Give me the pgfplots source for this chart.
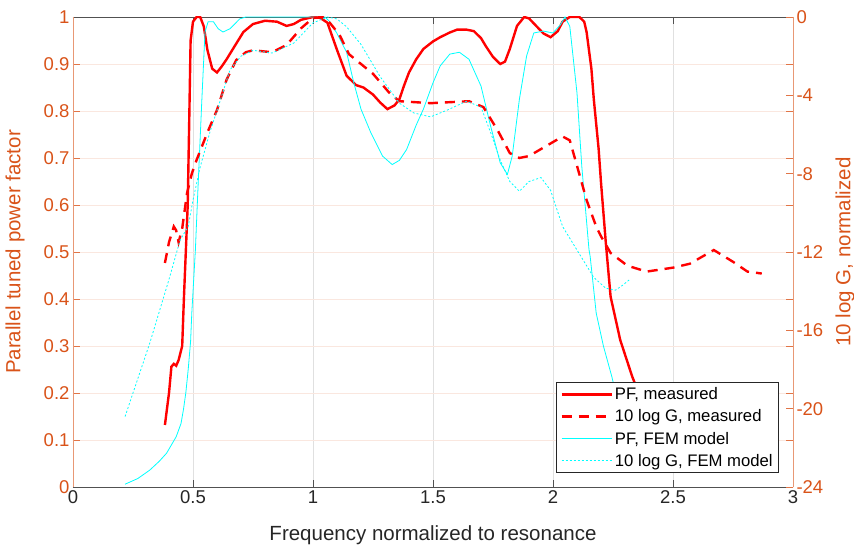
\documentclass[border=0pt]{standalone}
\usepackage{pgfplots}
\pgfplotsset{compat=1.18}
\usepackage{fontspec}
\setmainfont{Liberation Sans}
\definecolor{morange}{HTML}{D95319}
\definecolor{mgray}{HTML}{262626}
\definecolor{mcyan}{HTML}{00FFFF}
\begin{document}
\begin{tikzpicture}
\pgfplotsset{
  every axis/.append style={
    scale only axis, width=720pt, height=470pt,
    xmin=0, xmax=3,
    /pgf/number format/assume math mode=true,
    tick label style={font=\fontsize{18.5}{22}\selectfont},
    label style={font=\fontsize{20.5}{24}\selectfont},
    major tick length=7pt, tick align=inside,
  }
}
\begin{axis}[
  ymin=0, ymax=1,
  ytick={0,0.1,0.2,0.3,0.4,0.5,0.6,0.7,0.8,0.9,1},
  yticklabels={0,0.1,0.2,0.3,0.4,0.5,0.6,0.7,0.8,0.9,1},
  xtick={0,0.5,1,1.5,2,2.5,3},
  xticklabels={0,0.5,1,1.5,2,2.5,3},
  separate axis lines,
  x axis line style={draw=mgray!80, line width=0.7pt},
  y axis line style={draw=morange!60, line width=0.8pt},
  xtick style={mgray!80, line width=0.7pt},
  ytick style={morange!80, line width=0.7pt},
  xticklabel style={mgray},
  yticklabel style={morange},
  xmajorgrids, ymajorgrids,
  major x grid style={black!12, line width=0.6pt},
  major y grid style={morange!14, line width=0.6pt},
  xlabel={Frequency normalized to resonance},
  ylabel={Parallel tuned power factor},
  xlabel style={mgray, at={(axis description cs:0.5,-0.102)}, anchor=center},
  ylabel style={morange, at={(axis description cs:-0.0806,0.5)}, anchor=center},
]
% PF, measured
\addplot[red, line width=2.4pt] coordinates {
(0.383,0.132) (0.40,0.20) (0.41,0.256) (0.42,0.262) (0.43,0.258) (0.44,0.27)
(0.455,0.30) (0.462,0.40) (0.47,0.50) (0.478,0.60) (0.485,0.80) (0.49,0.95)
(0.50,0.99) (0.515,1.0) (0.53,1.0) (0.545,0.98) (0.56,0.93) (0.58,0.89)
(0.60,0.882) (0.62,0.895) (0.64,0.91) (0.67,0.935) (0.71,0.968) (0.75,0.985)
(0.80,0.992) (0.85,0.99) (0.89,0.981) (0.92,0.985) (0.95,0.994) (1.0,1.0)
(1.03,0.998) (1.06,0.988) (1.10,0.93) (1.14,0.875) (1.18,0.855) (1.21,0.85)
(1.25,0.835) (1.28,0.818) (1.31,0.804) (1.34,0.812) (1.36,0.825) (1.38,0.855)
(1.40,0.882) (1.43,0.91) (1.46,0.932) (1.50,0.948) (1.53,0.957) (1.57,0.967)
(1.60,0.973) (1.64,0.973) (1.67,0.97) (1.70,0.955) (1.72,0.938) (1.75,0.915)
(1.78,0.9) (1.80,0.905) (1.82,0.932) (1.85,0.981) (1.88,1.0) (1.90,0.997)
(1.93,0.981) (1.96,0.965) (1.99,0.957) (2.02,0.97) (2.04,0.99) (2.07,1.0)
(2.11,1.0) (2.13,0.99) (2.14,0.968) (2.16,0.89) (2.17,0.825) (2.19,0.72)
(2.20,0.648) (2.22,0.52) (2.24,0.405) (2.28,0.313) (2.33,0.235) (2.38,0.17)
(2.43,0.12)
};
% PF, FEM model
\addplot[mcyan, line width=0.8pt] coordinates {
(0.217,0.006) (0.27,0.018) (0.32,0.036) (0.36,0.055) (0.39,0.072) (0.43,0.107)
(0.45,0.135) (0.46,0.164) (0.47,0.20) (0.48,0.25) (0.49,0.31) (0.495,0.37)
(0.51,0.505) (0.52,0.627) (0.537,0.825) (0.55,0.968) (0.563,0.99) (0.585,0.99)
(0.605,0.975) (0.625,0.968) (0.654,0.975) (0.695,0.996) (0.72,1.0) (1.05,1.0)
(1.07,0.99) (1.10,0.965) (1.14,0.925) (1.17,0.86) (1.20,0.804) (1.24,0.755)
(1.29,0.704) (1.33,0.686) (1.36,0.695) (1.39,0.718) (1.43,0.77) (1.46,0.804)
(1.50,0.86) (1.53,0.896) (1.57,0.921) (1.61,0.925) (1.65,0.91) (1.70,0.853)
(1.74,0.768) (1.78,0.69) (1.81,0.665) (1.83,0.704) (1.86,0.825) (1.89,0.917)
(1.92,0.966) (1.96,0.97) (2.00,0.966) (2.03,0.983) (2.05,1.0) (2.07,0.98)
(2.10,0.838) (2.12,0.682) (2.15,0.505) (2.155,0.49) (2.18,0.37) (2.21,0.30)
(2.245,0.235) (2.28,0.16) (2.32,0.10)
};
\end{axis}
\begin{axis}[
  axis x line=none, axis y line*=right,
  ymin=-24, ymax=0,
  ytick={-24,-20,-16,-12,-8,-4,0},
  yticklabels={-24,-20,-16,-12,-8,-4,0},
  y axis line style={draw=morange!60, line width=0.8pt},
  ytick style={morange!80, line width=0.7pt},
  yticklabel style={morange},
  ylabel={10 log G, normalized},
  ylabel style={morange, at={(axis description cs:1.0722,0.5)}, anchor=center},
  legend style={at={(rel axis cs:1,0)}, anchor=south east, xshift=-14pt, yshift=14pt,
    draw=mgray, line width=0.6pt, fill=white, text=black,
    font=\fontsize{16.7}{19}\selectfont, row sep=4.5pt, inner xsep=4pt, inner ysep=3pt},
  legend cell align=left,
  legend image code/.code={\draw[#1] (0pt,0pt) -- (50pt,0pt);},
]
\addlegendimage{red, line width=2.4pt}
\addlegendentry{PF, measured}
% 10 log G, measured
\addplot[red, line width=2.4pt, dash pattern=on 10pt off 7pt] coordinates {
(0.383,-12.56) (0.40,-11.5) (0.42,-10.7) (0.43,-10.9) (0.44,-11.5) (0.455,-10.8)
(0.475,-9.0) (0.495,-8.0) (0.515,-7.3) (0.56,-5.9) (0.60,-4.75) (0.64,-3.2)
(0.68,-2.2) (0.72,-1.8) (0.75,-1.7) (0.83,-1.8) (0.89,-1.43) (0.95,-0.58)
(1.0,-0.05) (1.04,0) (1.07,-0.3) (1.11,-0.9) (1.15,-1.9) (1.2,-2.4)
(1.25,-2.9) (1.32,-3.9) (1.36,-4.3) (1.49,-4.4) (1.65,-4.3) (1.71,-4.6)
(1.77,-5.8) (1.82,-6.95) (1.86,-7.2) (1.90,-7.1) (1.97,-6.6) (2.04,-6.1)
(2.07,-6.3) (2.10,-7.6) (2.14,-9.35) (2.18,-10.7) (2.20,-11.2) (2.24,-12.05)
(2.31,-12.7) (2.39,-13.0) (2.5,-12.8) (2.57,-12.6) (2.67,-11.9) (2.75,-12.5)
(2.81,-13.0) (2.87,-13.1)
};
\addlegendentry{10 log G, measured}
\addlegendimage{mcyan, line width=0.8pt}
\addlegendentry{PF, FEM model}
% 10 log G, FEM model
\addplot[mcyan, line width=0.8pt, dash pattern=on 2pt off 2pt] coordinates {
(0.217,-20.4) (0.32,-16.65) (0.40,-13.4) (0.446,-11.4) (0.48,-10.7) (0.50,-9.35)
(0.53,-7.66) (0.57,-5.9) (0.61,-4.4) (0.654,-2.7) (0.70,-2.0) (0.75,-1.7)
(0.83,-1.84) (0.92,-1.33) (1.0,-0.3) (1.06,0) (1.10,-0.1) (1.14,-0.5)
(1.2,-1.4) (1.28,-3.05) (1.36,-4.4) (1.42,-4.9) (1.49,-5.1) (1.56,-4.75)
(1.64,-4.3) (1.70,-4.6) (1.74,-5.9) (1.78,-7.3) (1.82,-8.4) (1.86,-8.9)
(1.90,-8.4) (1.95,-8.2) (1.99,-8.85) (2.04,-10.7) (2.10,-11.9) (2.125,-12.4)
(2.17,-13.3) (2.22,-13.85) (2.26,-13.95) (2.29,-13.7) (2.32,-13.4)
};
\addlegendentry{10 log G, FEM model}
\end{axis}
\pgfresetboundingbox
\path[use as bounding box] (-73pt,-59pt) rectangle (781pt,487pt);
\end{tikzpicture}
\end{document}
